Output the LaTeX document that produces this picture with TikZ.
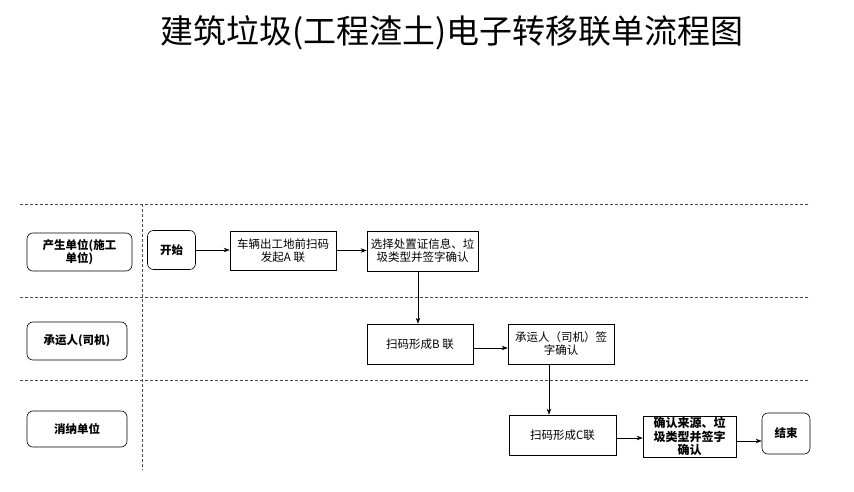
\documentclass[tikz,border=0pt]{standalone}
\usepackage{fontspec}
\setmainfont{Noto Sans CJK SC}
\usetikzlibrary{arrows.meta}
\tikzset{
    lane/.style={draw, rounded corners=6pt, inner sep=0pt, align=center, font=\bfseries\fontsize{11.5}{13}\selectfont},
    term/.style={draw, rounded corners=6pt, inner sep=0pt, minimum width=48pt, align=center, font=\bfseries\fontsize{11.5}{13}\selectfont},
    proc/.style={draw, inner sep=0pt, align=center, font=\fontsize{11.5}{13}\selectfont},
    sep/.style={gray!60!black, line width=0.8pt, dash pattern=on 3pt off 2pt},
    arr/.style={-{Stealth[length=6pt,width=4.5pt]}, line width=0.6pt},
}
\begin{document}
\begin{tikzpicture}[x=1pt, y=-1pt, line width=0.6pt]
    \useasboundingbox (0,0) rectangle (854,492);
    \node[font=\fontsize{33}{36}\selectfont] (title) at (452,33) {建筑垃圾(工程渣土)电子转移联单流程图};
    % swimlanes
    \draw[sep] (20,204) -- (810,204);
    \draw[sep] (20,297) -- (810,297);
    \draw[sep] (20,380) -- (810,380);
    \draw[sep] (142,204) -- (142,470);
    \node[lane, minimum width=105pt, minimum height=38pt] (producer) at (79.5,252) {产生单位(施工\\单位)};
    \node[lane, minimum width=100pt, minimum height=38pt] (carrier) at (77,341) {承运人(司机)};
    \node[lane, minimum width=100pt, minimum height=36pt] (receiver) at (77,429) {消纳单位};
    % steps
    \node[term, minimum height=39pt] (start) at (171.5,250) {开始};
    \node[proc, minimum width=106pt, minimum height=39pt] (scanA) at (283,250.5) {车辆出工地前扫码\\发起A 联};
    \node[proc, minimum width=111pt, minimum height=40pt] (choose) at (422.5,251) {选择处置证信息、垃\\圾类型并签字确认};
    \node[proc, minimum width=106pt, minimum height=40pt] (scanB) at (420,344) {扫码形成B 联};
    \node[proc, minimum width=106pt, minimum height=40pt] (driver) at (561,344) {承运人（司机）签\\字确认};
    \node[proc, minimum width=107pt, minimum height=40pt] (scanC) at (562.5,435) {扫码形成C联};
    \node[proc, minimum width=93pt, minimum height=41pt, font=\bfseries\fontsize{12}{13.5}\selectfont] (confirm) at (689.5,436.5) {确认来源、垃\\圾类型并签字\\确认};
    \node[term, minimum height=41pt] (end) at (786,433.5) {结束};
    % flow
    \draw[arr] (start.east) -- (start.east -| scanA.west);
    \draw[arr] (scanA.east) -- (scanA.east -| choose.west);
    \draw[arr] ([xshift=-4.5pt]choose.south) -- ([xshift=-4.5pt]choose.south |- scanB.north);
    \draw[arr] ([yshift=-4pt]scanB.east) -- ([yshift=-4pt]scanB.east -| driver.west);
    \draw[arr] ([xshift=-12pt]driver.south) -- ([xshift=-12pt]driver.south |- scanC.north);
    \draw[arr] ([yshift=-3pt]scanC.east) -- ([yshift=-3pt]scanC.east -| confirm.west);
    \draw[arr] ([yshift=-4.5pt]confirm.east) -- ([yshift=-4.5pt]confirm.east -| end.west);
\end{tikzpicture}
\end{document}
